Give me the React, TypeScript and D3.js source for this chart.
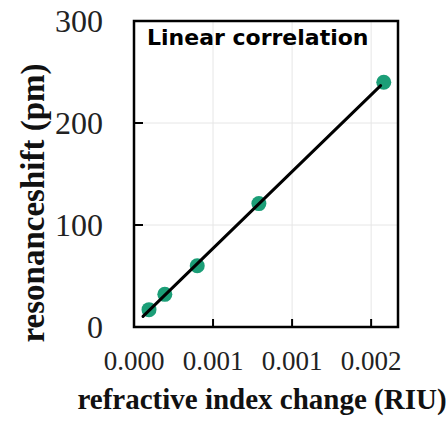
import * as d3 from 'd3';
import React from 'react';

// refractive index change (RIU) vs resonance shift (pm)
const riuChange = [0.000095, 0.000195, 0.0004, 0.00079, 0.00158];
const shiftPm = [17, 32, 60, 121, 240];

const xTicks = [0, 0.0005, 0.001, 0.0015];
const xTickLabels = ['0.000', '0.001', '0.001', '0.002'];
const yTicks = [0, 100, 200, 300];
const yTickLabels = ['0', '100', '200', '300'];

// extent of the fitted line
const fitRange = [0.000057, 0.00156];

const W = 446, H = 423;
const margin = {l: 134, r: 48, t: 21, b: 96};

export default function App() {
    const plotW = W - margin.l - margin.r;
    const plotH = H - margin.t - margin.b;

    const x = d3.scaleLinear().domain([0, 0.00167]).range([margin.l, margin.l + plotW]);
    const y = d3.scaleLinear().domain([0, 300]).range([margin.t + plotH, margin.t]);

    // least squares fit
    const mx = d3.mean(riuChange)!;
    const my = d3.mean(shiftPm)!;
    let sxy = 0, sxx = 0;
    riuChange.forEach((v, i) => {
        sxy += (v - mx) * (shiftPm[i] - my);
        sxx += (v - mx) * (v - mx);
    });
    const slope = sxy / sxx;
    const intercept = my - slope * mx;
    const fitLine = d3.line<number>()
        .x((d) => x(d))
        .y((d) => y(slope * d + intercept));

    const serif = '"Liberation Serif", "Times New Roman", serif';
    const bottom = margin.t + plotH;

    return (
        <svg width={W} height={H} style={{position: 'absolute', left: 0, top: 0, background: '#fff'}}>
            {/* gridlines */}
            {xTicks.slice(1).map((t) => (
                <line key={'gx' + t} x1={x(t)} x2={x(t)} y1={margin.t} y2={bottom} stroke="#e6e6e6" strokeWidth={1} />
            ))}
            {yTicks.slice(1, -1).map((t) => (
                <line key={'gy' + t} x1={margin.l} x2={margin.l + plotW} y1={y(t)} y2={y(t)} stroke="#e6e6e6" strokeWidth={1} />
            ))}

            {/* inward ticks */}
            {xTicks.slice(1).map((t) => (
                <line key={'tx' + t} x1={x(t)} x2={x(t)} y1={bottom} y2={bottom - 8} stroke="#000" strokeWidth={2} />
            ))}
            {yTicks.slice(1, -1).map((t) => (
                <line key={'ty' + t} x1={margin.l} x2={margin.l + 9} y1={y(t)} y2={y(t)} stroke="#000" strokeWidth={2} />
            ))}

            <rect x={margin.l} y={margin.t} width={plotW} height={plotH} fill="none" stroke="#000" strokeWidth={2.5} />

            {/* points */}
            {riuChange.map((v, i) => (
                <circle key={i} cx={x(v)} cy={y(shiftPm[i])} r={7.5} fill="#1b9e77" />
            ))}

            <path d={fitLine(fitRange) || ''} fill="none" stroke="#000" strokeWidth={3} strokeLinecap="round" />

            {/* tick labels */}
            {xTicks.map((t, i) => (
                <text key={'lx' + t} x={x(t)} y={370} textAnchor="middle" fontFamily={serif} fontSize={27} fill="#222">
                    {xTickLabels[i]}
                </text>
            ))}
            {yTicks.map((t, i) => (
                <text key={'ly' + t} x={103} y={y(t)} dy="0.35em" textAnchor="end" fontFamily={serif} fontSize={32} fill="#222">
                    {yTickLabels[i]}
                </text>
            ))}

            <text x={147} y={45} fontFamily='"DejaVu Sans", sans-serif' fontWeight="bold" fontSize={22} fill="#000">
                Linear correlation
            </text>

            <text x={262} y={409} textAnchor="middle" fontFamily={serif} fontWeight="bold" fontSize={29} fill="#111">
                refractive index change (RIU)
            </text>
            <text transform={`translate(44, ${203}) rotate(-90)`} textAnchor="middle" fontFamily={serif} fontWeight="bold" fontSize={33} fill="#111">
                resonanceshift (pm)
            </text>
        </svg>
    );
}
